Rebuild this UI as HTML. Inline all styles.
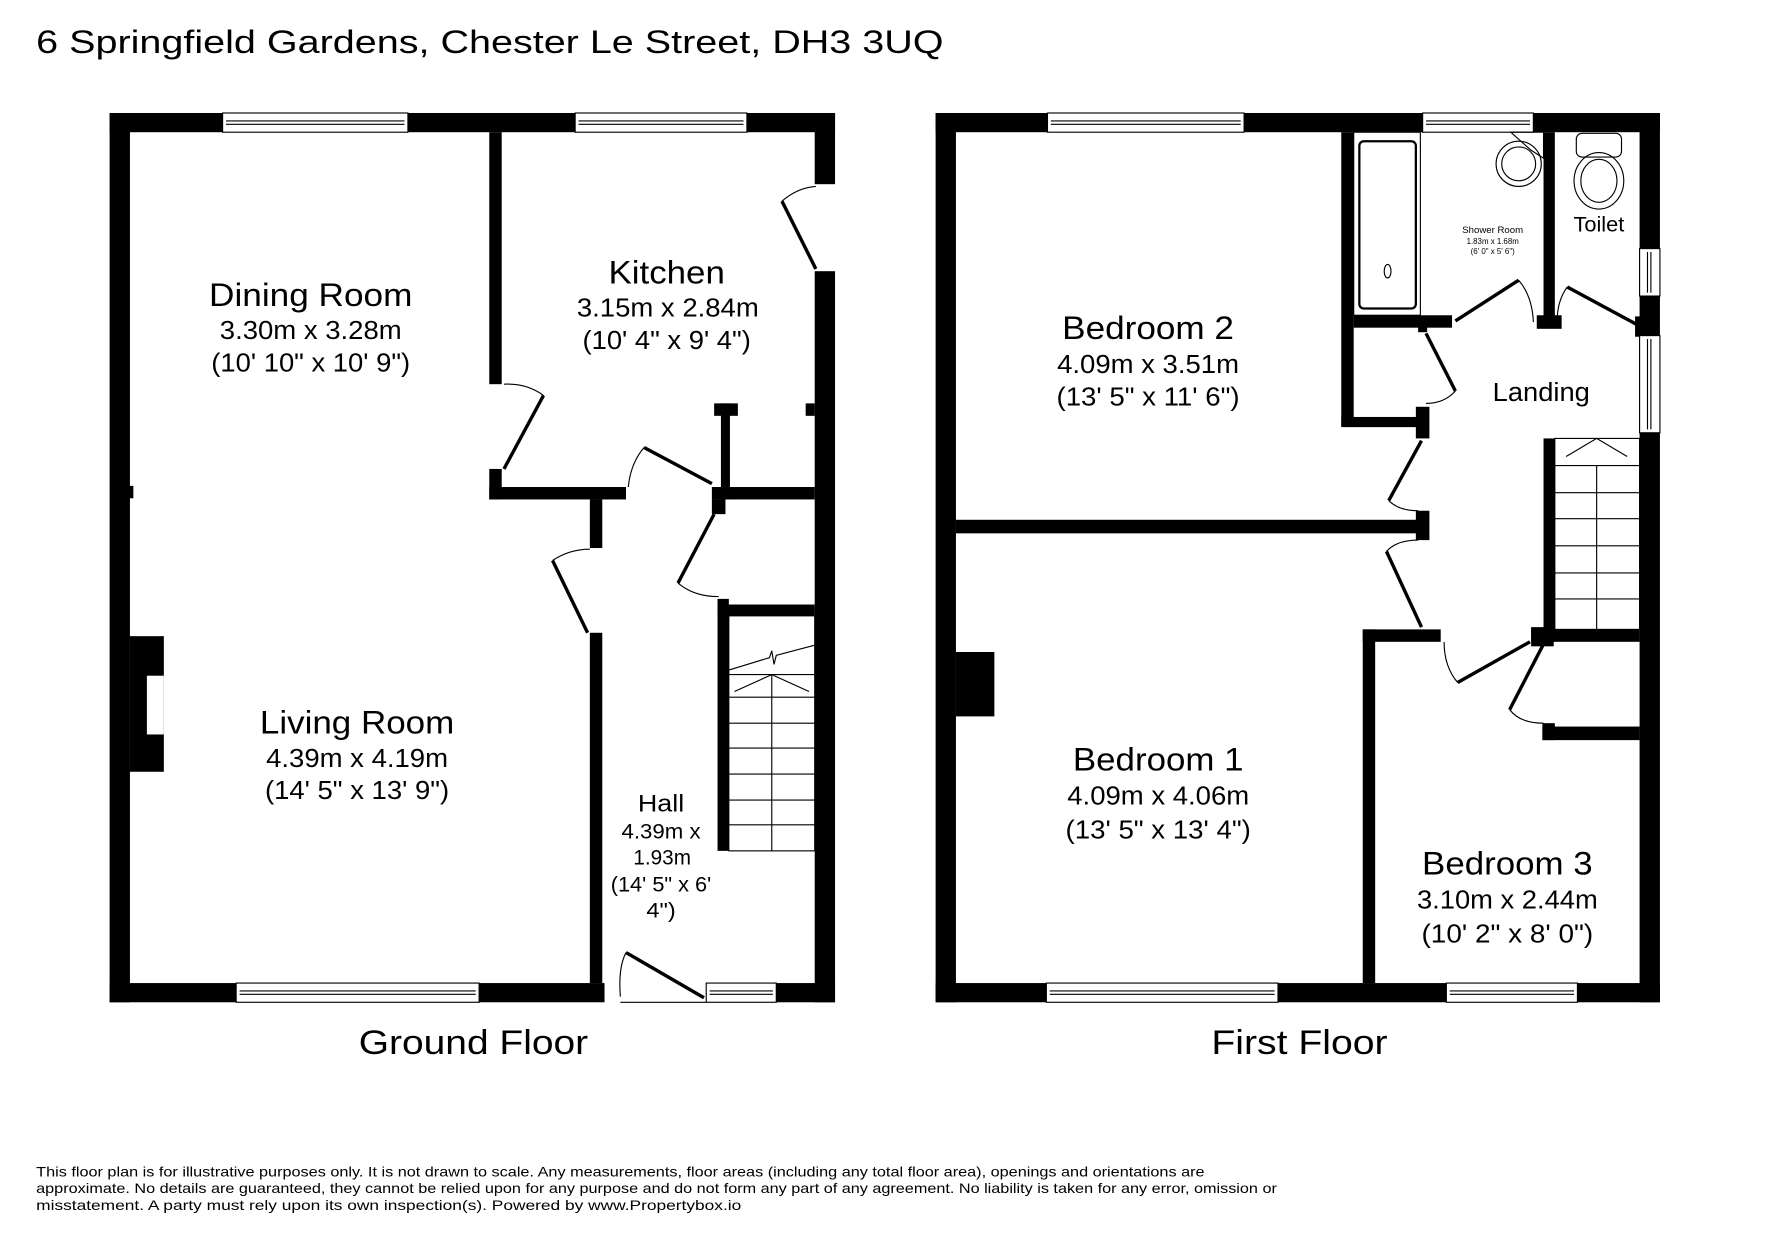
<!DOCTYPE html>
<html><head><meta charset="utf-8"><style>
html,body{margin:0;padding:0;background:#fff;}
svg{display:block;}
text{font-family:"Liberation Sans",Arial,sans-serif;fill:#000;}
</style></head><body>
<svg width="1771" height="1239" viewBox="0 0 1567.3 1096.5" preserveAspectRatio="none" xmlns="http://www.w3.org/2000/svg">
<rect width="1567.3" height="1096.5" fill="#fff"/>
<text x="32" y="47" font-size="29" textLength="803" lengthAdjust="spacingAndGlyphs">6 Springfield Gardens, Chester Le Street, DH3 3UQ</text>

<g fill="#000">
<rect x="97" y="100" width="642" height="17"/>
<rect x="97" y="100" width="18" height="787"/>
<rect x="721" y="100" width="18" height="63"/>
<rect x="721" y="240" width="18" height="647"/>
<rect x="97" y="870" width="438" height="17"/>
<rect x="625" y="870" width="114" height="17"/>
<rect x="433" y="117" width="11" height="223"/>
<rect x="433" y="415" width="11" height="27"/>
<rect x="433" y="431" width="121" height="11"/>
<rect x="522" y="442" width="11" height="43"/>
<rect x="522" y="560" width="11" height="310"/>
<rect x="632" y="357" width="21" height="11"/>
<rect x="638" y="357" width="8" height="85"/>
<rect x="630" y="431" width="91" height="11"/>
<rect x="630" y="442" width="12" height="13"/>
<rect x="635" y="530" width="10" height="223"/>
<rect x="635" y="535" width="86" height="10"/>
<rect x="713" y="357" width="8" height="11"/>
<rect x="113" y="430" width="5" height="11"/>
<rect x="115" y="563" width="30" height="120"/>
</g>
<rect x="130" y="598" width="15" height="52" fill="#fff"/>
<g fill="#fff" stroke="#000" stroke-width="1">
<rect x="197" y="100" width="164" height="17"/><line x1="200" y1="107" x2="358" y2="107"/><line x1="200" y1="110" x2="358" y2="110"/>
<rect x="509" y="100" width="152" height="17"/><line x1="512" y1="107" x2="658" y2="107"/><line x1="512" y1="110" x2="658" y2="110"/>
<rect x="209" y="870" width="215" height="17"/><line x1="212" y1="877" x2="421" y2="877"/><line x1="212" y1="880" x2="421" y2="880"/>
<rect x="625" y="870" width="62" height="17"/><line x1="628" y1="877" x2="684" y2="877"/><line x1="628" y1="880" x2="684" y2="880"/>
</g>
<g fill="none" stroke="#000">
<line x1="722" y1="238" x2="692" y2="178" stroke-width="3"/><path d="M692 178 Q706 166 722 165" stroke-width="1"/>
<line x1="446" y1="415" x2="481" y2="350" stroke-width="3"/><path d="M481 350 Q466 339 446 340" stroke-width="1"/>
<line x1="630" y1="428" x2="570" y2="396" stroke-width="3"/><path d="M570 396 Q558 410 556 431" stroke-width="1"/>
<line x1="632" y1="455" x2="600" y2="516" stroke-width="3"/><path d="M600 516 Q614 528 636 528" stroke-width="1"/>
<line x1="520" y1="560" x2="489" y2="496" stroke-width="3"/><path d="M489 496 Q504 486 522 486" stroke-width="1"/>
<line x1="623" y1="883" x2="554" y2="843" stroke-width="3"/><path d="M554 843 Q547 856 549 882" stroke-width="1"/>
<line x1="549" y1="887" x2="625" y2="887" stroke-width="1"/>
</g>
<g stroke="#000" stroke-width="1" fill="none">
<rect x="645" y="545" width="76" height="208"/>
<line x1="645" y1="597" x2="721" y2="597"/><line x1="645" y1="617" x2="721" y2="617"/><line x1="645" y1="640" x2="721" y2="640"/><line x1="645" y1="662" x2="721" y2="662"/><line x1="645" y1="685" x2="721" y2="685"/><line x1="645" y1="708" x2="721" y2="708"/><line x1="645" y1="730" x2="721" y2="730"/>
<line x1="683" y1="597" x2="683" y2="753"/>
<polyline points="645,593 681,582 683,576 685,588 687,580 721,571"/>
<polyline points="650,612 683,597 716,612"/>
</g>
<text x="275" y="271" font-size="29" text-anchor="middle" textLength="180" lengthAdjust="spacingAndGlyphs">Dining Room</text>
<text x="275" y="300" font-size="23" text-anchor="middle" textLength="161" lengthAdjust="spacingAndGlyphs">3.30m x 3.28m</text>
<text x="275" y="329" font-size="23" text-anchor="middle" textLength="176" lengthAdjust="spacingAndGlyphs">(10' 10" x 10' 9")</text>
<text x="590" y="251" font-size="29" text-anchor="middle" textLength="103" lengthAdjust="spacingAndGlyphs">Kitchen</text>
<text x="591" y="280" font-size="23" text-anchor="middle" textLength="161" lengthAdjust="spacingAndGlyphs">3.15m x 2.84m</text>
<text x="590" y="309" font-size="23" text-anchor="middle" textLength="149" lengthAdjust="spacingAndGlyphs">(10' 4" x 9' 4")</text>
<text x="316" y="649" font-size="29" text-anchor="middle" textLength="172" lengthAdjust="spacingAndGlyphs">Living Room</text>
<text x="316" y="679" font-size="23" text-anchor="middle" textLength="161" lengthAdjust="spacingAndGlyphs">4.39m x 4.19m</text>
<text x="316" y="707" font-size="23" text-anchor="middle" textLength="163" lengthAdjust="spacingAndGlyphs">(14' 5" x 13' 9")</text>
<text x="585" y="718" font-size="21" text-anchor="middle" textLength="41" lengthAdjust="spacingAndGlyphs">Hall</text>
<text x="585" y="742" font-size="19" text-anchor="middle" textLength="70" lengthAdjust="spacingAndGlyphs">4.39m x</text>
<text x="586" y="765" font-size="19" text-anchor="middle" textLength="51" lengthAdjust="spacingAndGlyphs">1.93m</text>
<text x="585" y="789" font-size="19" text-anchor="middle" textLength="89" lengthAdjust="spacingAndGlyphs">(14' 5" x 6'</text>
<text x="585" y="812" font-size="19" text-anchor="middle" textLength="26" lengthAdjust="spacingAndGlyphs">4")</text>
<text x="419" y="933" font-size="30" text-anchor="middle" textLength="203" lengthAdjust="spacingAndGlyphs">Ground Floor</text>

<g fill="#000">
<rect x="828" y="100" width="641" height="17"/>
<rect x="828" y="100" width="18" height="787"/>
<rect x="1451" y="100" width="18" height="787"/>
<rect x="828" y="870" width="641" height="17"/>
<rect x="846" y="460" width="409" height="12"/>
<rect x="1253" y="452" width="12" height="26"/>
<rect x="1187" y="117" width="11" height="260"/>
<rect x="1187" y="369" width="68" height="9"/>
<rect x="1253" y="360" width="12" height="28"/>
<rect x="1198" y="279" width="87" height="11"/>
<rect x="1255" y="288" width="8" height="6"/>
<rect x="1366" y="117" width="10" height="173"/>
<rect x="1360" y="279" width="22" height="12"/>
<rect x="1447" y="280" width="8" height="18"/>
<rect x="1206" y="557" width="11" height="313"/>
<rect x="1206" y="557" width="69" height="11"/>
<rect x="1355" y="557" width="96" height="11"/>
<rect x="1355" y="555" width="20" height="17"/>
<rect x="1366" y="388" width="10" height="180"/>
<rect x="1365" y="643" width="86" height="12"/>
<rect x="1365" y="640" width="11" height="15"/>
<rect x="846" y="577" width="34" height="57"/>
</g>
<g fill="#fff" stroke="#000" stroke-width="1">
<rect x="927" y="100" width="174" height="17"/><line x1="930" y1="107" x2="1098" y2="107"/><line x1="930" y1="110" x2="1098" y2="110"/>
<rect x="1259" y="100" width="98" height="17"/><line x1="1262" y1="107" x2="1354" y2="107"/><line x1="1262" y1="110" x2="1354" y2="110"/>
<rect x="926" y="870" width="205" height="17"/><line x1="929" y1="877" x2="1128" y2="877"/><line x1="929" y1="880" x2="1128" y2="880"/>
<rect x="1280" y="870" width="116" height="17"/><line x1="1283" y1="877" x2="1393" y2="877"/><line x1="1283" y1="880" x2="1393" y2="880"/>
<rect x="1451" y="220" width="18" height="42"/><line x1="1458" y1="223" x2="1458" y2="259"/><line x1="1461" y1="223" x2="1461" y2="259"/>
<rect x="1451" y="297" width="18" height="86"/><line x1="1458" y1="300" x2="1458" y2="380"/><line x1="1461" y1="300" x2="1461" y2="380"/>
</g>
<g fill="none" stroke="#000">
<line x1="1288" y1="284" x2="1344" y2="248" stroke-width="3"/><path d="M1344 248 Q1356 262 1357 285" stroke-width="1"/>
<line x1="1450" y1="288" x2="1387" y2="254" stroke-width="3"/><path d="M1387 254 Q1378 266 1378 285" stroke-width="1"/>
<line x1="1262" y1="295" x2="1288" y2="346" stroke-width="3"/><path d="M1288 346 Q1278 357 1262 357" stroke-width="1"/>
<line x1="1258" y1="390" x2="1229" y2="443" stroke-width="3"/><path d="M1229 443 Q1238 452 1255 452" stroke-width="1"/>
<line x1="1258" y1="555" x2="1227" y2="488" stroke-width="3"/><path d="M1227 488 Q1236 478 1255 478" stroke-width="1"/>
<line x1="1354" y1="568" x2="1290" y2="604" stroke-width="3"/><path d="M1290 604 Q1278 590 1278 568" stroke-width="1"/>
<line x1="1366" y1="570" x2="1336" y2="628" stroke-width="3"/><path d="M1336 628 Q1345 640 1366 640" stroke-width="1"/>
</g>
<g stroke="#000" stroke-width="1" fill="none">
<rect x="1376" y="388" width="75" height="169"/>
<line x1="1376" y1="412" x2="1451" y2="412"/><line x1="1376" y1="436" x2="1451" y2="436"/><line x1="1376" y1="459" x2="1451" y2="459"/><line x1="1376" y1="483" x2="1451" y2="483"/><line x1="1376" y1="507" x2="1451" y2="507"/><line x1="1376" y1="530" x2="1451" y2="530"/>
<line x1="1413" y1="412" x2="1413" y2="557"/>
<polyline points="1386,404 1413,388 1440,404"/>
<rect x="1198" y="117" width="59" height="162"/>
<rect x="1203" y="125" width="50" height="148" rx="4" stroke-width="2"/>
<ellipse cx="1228" cy="240" rx="3" ry="6"/>
<path d="M1337 117 L1366 117 L1366 140 L1355 133 Z"/>
<ellipse cx="1344" cy="145" rx="20" ry="20"/>
<ellipse cx="1344" cy="145" rx="15" ry="15"/>
<rect x="1395" y="118" width="40" height="21" rx="5"/>
<ellipse cx="1415" cy="160" rx="22" ry="25"/>
<ellipse cx="1415" cy="160" rx="16" ry="19"/>
</g>
<text x="1016" y="300" font-size="29" text-anchor="middle" textLength="152" lengthAdjust="spacingAndGlyphs">Bedroom 2</text>
<text x="1016" y="330" font-size="23" text-anchor="middle" textLength="161" lengthAdjust="spacingAndGlyphs">4.09m x 3.51m</text>
<text x="1016" y="359" font-size="23" text-anchor="middle" textLength="162" lengthAdjust="spacingAndGlyphs">(13' 5" x 11' 6")</text>
<text x="1321" y="206" font-size="8.5" text-anchor="middle">Shower Room</text>
<text x="1321" y="216" font-size="7" text-anchor="middle">1.83m x 1.68m</text>
<text x="1321" y="225" font-size="7" text-anchor="middle">(6' 0" x 5' 6")</text>
<text x="1415" y="205" font-size="19" text-anchor="middle" textLength="45" lengthAdjust="spacingAndGlyphs">Toilet</text>
<text x="1364" y="355" font-size="23" text-anchor="middle" textLength="86" lengthAdjust="spacingAndGlyphs">Landing</text>
<text x="1025" y="682" font-size="29" text-anchor="middle" textLength="151" lengthAdjust="spacingAndGlyphs">Bedroom 1</text>
<text x="1025" y="712" font-size="23" text-anchor="middle" textLength="161" lengthAdjust="spacingAndGlyphs">4.09m x 4.06m</text>
<text x="1025" y="742" font-size="23" text-anchor="middle" textLength="164" lengthAdjust="spacingAndGlyphs">(13' 5" x 13' 4")</text>
<text x="1334" y="774" font-size="29" text-anchor="middle" textLength="151" lengthAdjust="spacingAndGlyphs">Bedroom 3</text>
<text x="1334" y="804" font-size="23" text-anchor="middle" textLength="160" lengthAdjust="spacingAndGlyphs">3.10m x 2.44m</text>
<text x="1334" y="834" font-size="23" text-anchor="middle" textLength="152" lengthAdjust="spacingAndGlyphs">(10' 2" x 8' 0")</text>
<text x="1150" y="933" font-size="30" text-anchor="middle" textLength="156" lengthAdjust="spacingAndGlyphs">First Floor</text>

<text x="32" y="1041" font-size="12.5" textLength="1034" lengthAdjust="spacingAndGlyphs">This floor plan is for illustrative purposes only. It is not drawn to scale. Any measurements, floor areas (including any total floor area), openings and orientations are</text>
<text x="32" y="1056" font-size="12.5" textLength="1098" lengthAdjust="spacingAndGlyphs">approximate. No details are guaranteed, they cannot be relied upon for any purpose and do not form any part of any agreement. No liability is taken for any error, omission or</text>
<text x="32" y="1071" font-size="12.5" textLength="624" lengthAdjust="spacingAndGlyphs">misstatement. A party must rely upon its own inspection(s). Powered by www.Propertybox.io</text>
</svg>
</body></html>
